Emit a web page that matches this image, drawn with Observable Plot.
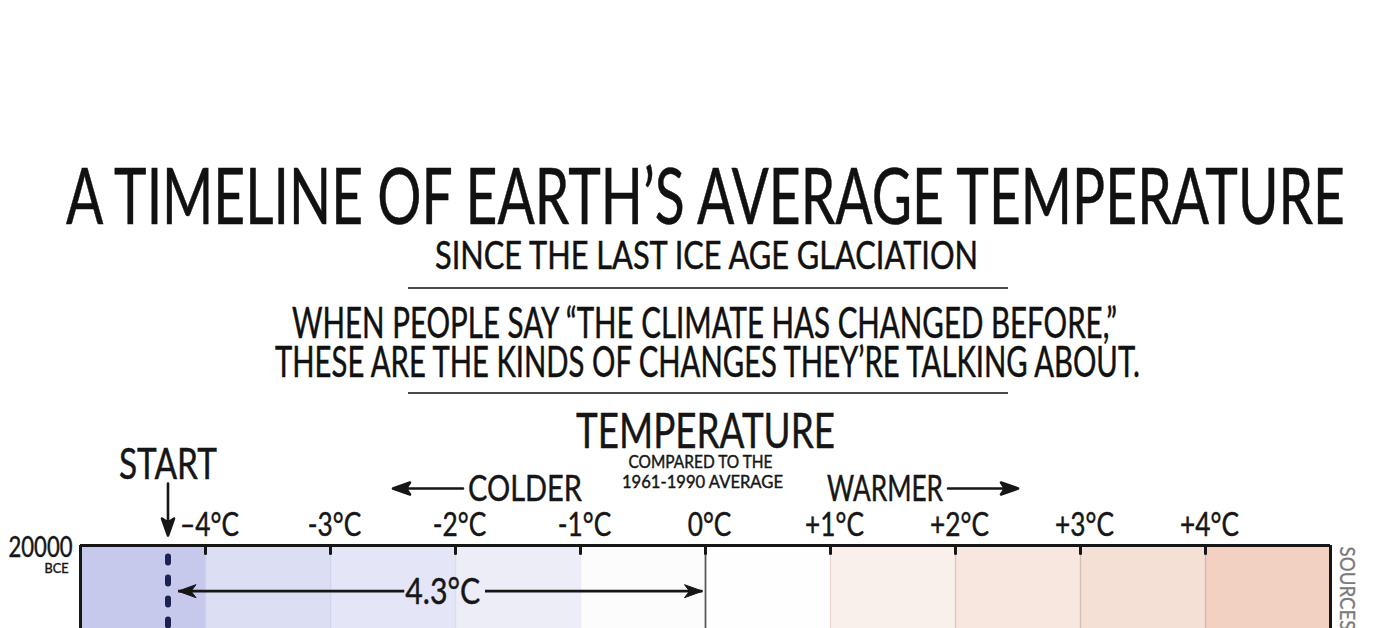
<!DOCTYPE html>
<html><head><meta charset="utf-8">
<script src="https://cdn.jsdelivr.net/npm/d3@7"></script>
<script src="https://cdn.jsdelivr.net/npm/@observablehq/plot@0.6"></script>
<style>
html,body{margin:0;padding:0;background:#fff;overflow:hidden;}
#wrap{position:relative;width:1393px;height:628px;overflow:hidden;}
#head{position:absolute;left:0;top:0;width:1393px;height:400px;}
.hl{position:absolute;white-space:nowrap;font-family:Lato,"Open Sans",sans-serif;color:#111;transform-origin:0 0;line-height:0.8;-webkit-text-stroke:0.5px #111;}
.rule{position:absolute;height:2px;background:#4a4a4a;}
#chart{position:absolute;left:0;top:400px;}
#chart svg text{stroke:#161616;stroke-width:0.45px;}
#chart svg .t-src text{stroke:#7a7a7a;stroke-width:0.3px;}
</style></head>
<body><div id="wrap"><div id="head"></div><div id="chart"></div></div>
<script>
// ---- texts ----
const title = "A TIMELINE OF EARTH’S AVERAGE TEMPERATURE";
const subtitle = "SINCE THE LAST ICE AGE GLACIATION";
const noteLines = ["WHEN PEOPLE SAY “THE CLIMATE HAS CHANGED BEFORE,”", "THESE ARE THE KINDS OF CHANGES THEY’RE TALKING ABOUT."];
const axisTitle = "TEMPERATURE";
const axisSubtitle = ["COMPARED TO THE", "1961-1990 AVERAGE"];
const colderLabel = "COLDER";
const warmerLabel = "WARMER";
const startLabel = "START";
const sourcesLabel = "SOURCES";
const yearLabel = "20000";
const eraLabel = "BCE";
const changeLabel = "4.3°C";

// ---- scales / data ----
const tickValues = [-4, -3, -2, -1, 0, 1, 2, 3, 4];
const tickLabels = ["–4°C", "-3°C", "-2°C", "-1°C", "0°C", "+1°C", "+2°C", "+3°C", "+4°C"];
const bandStarts = [-5, -4, -3, -2, -1, 0, 1, 2, 3, 4];
const bandEnds   = [-4, -3, -2, -1, 0, 1, 2, 3, 4, 5];
const years = [-20000, -19000, -18000, -17000, -16000, -15000, -14500, -14000, -13000, -12500, -12000, -11500, -11000, -10000, -9000, -8000, -7000, -6000, -5000, -4000, -3000, -2000, -1000, 0, 1000, 1500, 1900, 1950, 2016];
const temps = [-4.3, -4.3, -4.2, -4.0, -3.8, -3.4, -2.5, -2.3, -2.5, -3.0, -3.3, -2.2, -1.5, -1.0, -0.6, -0.3, -0.1, 0.0, 0.0, -0.1, -0.2, -0.3, -0.4, -0.4, -0.3, -0.5, -0.3, -0.1, 0.9];
const startYear = -20000;
const startTemp = -4.3;
const presentRef = 0;
const visibleYears = [-20000, -19800];
const changeYear = -19890;

// ---- styles ----
const bandColors = ["#c6c9eb", "#dcdef3", "#e4e5f6", "#ededf8", "#fcfcfc", "#fefefe", "#faf0eb", "#f8e7df", "#f5e0d6", "#f2d1c3"];
const gridColors = ["#cdd0ee", "#d2d4ef", "#dcdcf1", "#ebebf3", "#5a5a5a", "#e8d6cf", "#dcc4bb", "#d8bfb5", "#d3b7ac"];
const ink = "#161616";

// ---- header (HTML) ----
const head = document.getElementById("head");
function headLine(text, cx, base, size, width) {
  const el = document.createElement("span");
  el.className = "hl";
  el.style.fontSize = size + "px";
  el.textContent = text;
  const mk = document.createElement("span");
  mk.style.cssText = "display:inline-block;width:0;height:0;vertical-align:baseline;";
  el.appendChild(mk);
  head.appendChild(el);
  const r = el.getBoundingClientRect(), m = mk.getBoundingClientRect();
  el.style.left = (cx - width / 2) + "px";
  el.style.top = (base - (m.top - r.top)) + "px";
  el.style.transform = `scaleX(${width / r.width})`;
}
function rule(y) {
  const d = document.createElement("div");
  d.className = "rule";
  d.style.left = "408px"; d.style.width = "600px"; d.style.top = y + "px";
  head.appendChild(d);
}
headLine(title, 705, 224, 77, 1279);
headLine(subtitle, 706, 269, 38, 543);
rule(287);
headLine(noteLines[0], 704, 338, 42, 825);
headLine(noteLines[1], 707, 377, 42, 865);
rule(392);

// ---- chart ----
const bands = bandStarts.map((s, i) => ({x1: s, x2: bandEnds[i], fill: bandColors[i]}));
const curve = years.map((y, i) => ({year: y, temp: temps[i]}));
const mid = (startTemp + presentRef) / 2;

const tickShape = {draw(ctx, l) { ctx.moveTo(0, 0); ctx.lineTo(0, -l); }};
const arrowShape = {draw(ctx, l) {
  ctx.moveTo(0, 0); ctx.lineTo(0, -l + 10);
  ctx.moveTo(0, -l); ctx.lineTo(-6, -l + 17); ctx.lineTo(0, -l + 13); ctx.lineTo(6, -l + 17); ctx.closePath();
}};
const headSymbol = {draw(ctx) {
  ctx.moveTo(0, 0); ctx.lineTo(-6.5, 18); ctx.lineTo(0, 13); ctx.lineTo(6.5, 18); ctx.closePath();
}};

const plot = Plot.plot({
  width: 1393, height: 228,
  marginTop: 145, marginLeft: 80, marginRight: 63, marginBottom: 0,
  x: {domain: [-5, 5], axis: null},
  y: {domain: visibleYears, reverse: true, axis: null},
  style: {fontFamily: "Lato, 'Open Sans', sans-serif", color: ink, background: "transparent", overflow: "visible"},
  marks: [
    Plot.rect(bands, {x1: "x1", x2: "x2", fill: "fill"}),
    Plot.ruleX(tickValues, {stroke: (d, i) => gridColors[i], strokeWidth: d => d === 0 ? 1.8 : 1.3}),
    Plot.line(curve, {x: "temp", y: "year", stroke: "#1b2150", strokeWidth: 6, strokeDasharray: "6,15", strokeDashoffset: 10, strokeLinecap: "round", clip: true}),
    // 4.3°C change arrow
    Plot.link([{a: startTemp, b: mid - 0.34}], {x1: "a", x2: "b", y1: changeYear, y2: changeYear, stroke: ink, strokeWidth: 2.6, dx: 10}),
    Plot.link([{a: mid + 0.41, b: presentRef}], {x1: "a", x2: "b", y1: changeYear, y2: changeYear, stroke: ink, strokeWidth: 2.6, dx: -3}),
    Plot.dot([startTemp], {x: d => d, y: changeYear, symbol: headSymbol, rotate: -90, fill: ink, stroke: ink, strokeWidth: 1, dx: 10}),
    Plot.dot([presentRef], {x: d => d, y: changeYear, symbol: headSymbol, rotate: 90, fill: ink, stroke: ink, strokeWidth: 1, dx: -3}),
    Plot.text([changeLabel], {x: mid, y: changeYear, fontSize: 37, lineAnchor: "middle", dx: 6, dy: 1, className: "t-change"}),
    // frame
    Plot.ruleY([startYear], {stroke: ink, strokeWidth: 3}),
    Plot.ruleX([-5, 5], {stroke: ink, strokeWidth: 3}),
    Plot.vector(tickValues, {x: d => d, frameAnchor: "top", length: 8, rotate: 180, anchor: "start", shape: tickShape, stroke: ink, strokeWidth: 3}),
    // tick labels
    Plot.text(tickLabels, {x: (d, i) => tickValues[i], frameAnchor: "top", dy: -10, dx: 4, lineAnchor: "bottom", fontSize: 32, className: "t-tick"}),
    // headings
    Plot.text([axisTitle], {x: 0, frameAnchor: "top", dy: -98, lineAnchor: "bottom", fontSize: 48, className: "t-temp"}),
    Plot.text([axisSubtitle[0]], {x: 0, frameAnchor: "top", dy: -78, dx: -5, lineAnchor: "bottom", fontSize: 18, className: "t-cmp1"}),
    Plot.text([axisSubtitle[1]], {x: 0, frameAnchor: "top", dy: -58, dx: -3, lineAnchor: "bottom", fontSize: 18, className: "t-cmp2"}),
    Plot.text([colderLabel], {x: -1.9, frameAnchor: "top", dy: -45, textAnchor: "start", lineAnchor: "bottom", fontSize: 37, className: "t-colder"}),
    Plot.text([warmerLabel], {x: 1.9, frameAnchor: "top", dy: -45, textAnchor: "end", lineAnchor: "bottom", fontSize: 37, className: "t-warmer"}),
    Plot.vector([-2.5], {x: d => d, frameAnchor: "top", dy: -57, length: 70, rotate: -90, anchor: "end", shape: arrowShape, stroke: ink, fill: ink, strokeWidth: 2.6}),
    Plot.vector([2.5], {x: d => d, frameAnchor: "top", dy: -57, length: 70, rotate: 90, anchor: "end", shape: arrowShape, stroke: ink, fill: ink, strokeWidth: 2.6}),
    Plot.text([startLabel], {x: startTemp, frameAnchor: "top", dy: -67, lineAnchor: "bottom", fontSize: 42, className: "t-start"}),
    Plot.vector([startTemp], {x: d => d, frameAnchor: "top", dy: -10, length: 52, rotate: 180, anchor: "end", shape: arrowShape, stroke: ink, fill: ink, strokeWidth: 2.6}),
    // year label
    Plot.text([yearLabel], {x: -5, y: startYear, textAnchor: "end", lineAnchor: "middle", dx: -8, dy: 3, fontSize: 28, className: "t-year"}),
    Plot.text([eraLabel], {x: -5, y: startYear, textAnchor: "end", lineAnchor: "middle", dx: -12, dy: 23, fontSize: 13, className: "t-era"}),
    Plot.text([sourcesLabel], {x: 5, y: startYear, rotate: 90, textAnchor: "start", lineAnchor: "middle", dx: 17, dy: 1, fontSize: 22, fill: "#7a7a7a", className: "t-src"})
  ]
});
document.getElementById("chart").append(plot);

const fitWidths = {
  "t-change": [75], "t-temp": [259], "t-cmp1": [144], "t-cmp2": [161],
  "t-colder": [114], "t-warmer": [116], "t-start": [98], "t-year": [64], "t-era": [24], "t-src": [84]
};
for (const [cls, ws] of Object.entries(fitWidths)) {
  plot.querySelectorAll(`.${cls} text`).forEach((t, i) => {
    t.setAttribute("textLength", ws[i]);
    t.setAttribute("lengthAdjust", "spacingAndGlyphs");
  });
}
plot.querySelectorAll(".t-tick text").forEach(t => {
  t.setAttribute("textLength", t.getComputedTextLength() * 0.82);
  t.setAttribute("lengthAdjust", "spacingAndGlyphs");
});
</script></body></html>
